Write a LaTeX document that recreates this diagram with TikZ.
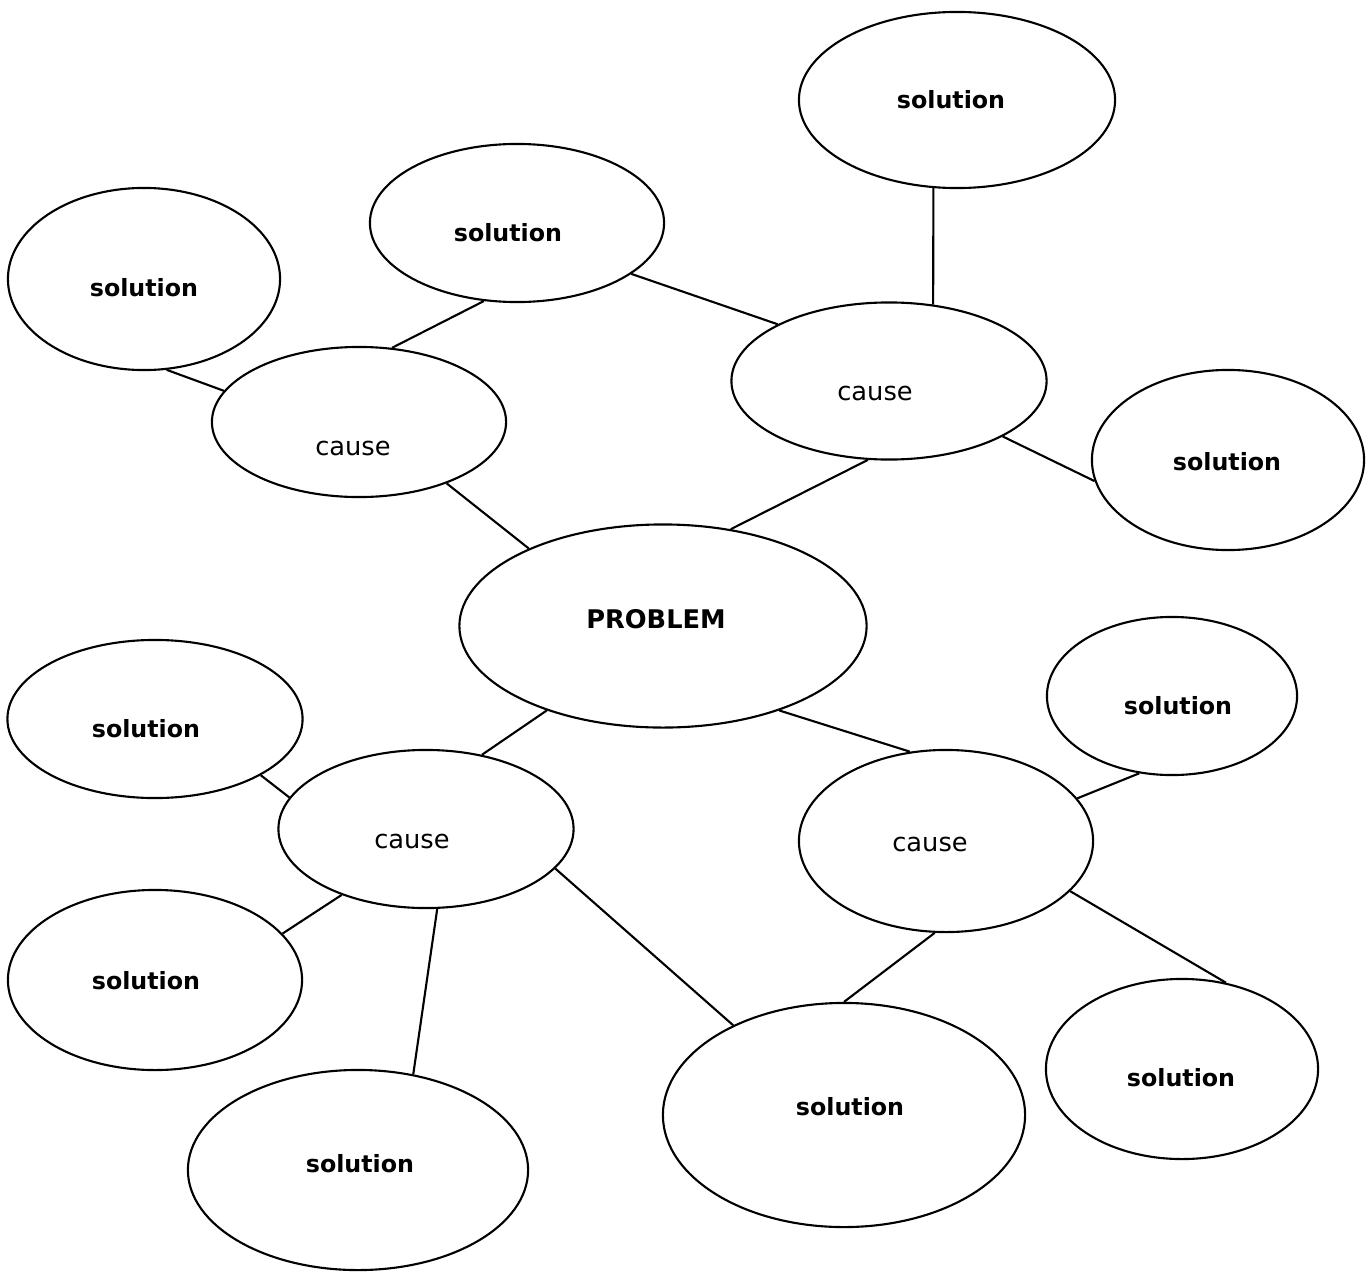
\documentclass[tikz,border=0pt]{standalone}
\usepackage{fontspec}
\setmainfont{DejaVu Sans}
\usetikzlibrary{shapes.geometric}
\begin{document}
\begin{tikzpicture}[x=0.01cm, y=-0.01cm, line width=0.6pt,
    burbuja/.style={draw, ellipse, inner sep=0pt},
    sol/.style={inner sep=0pt, font=\fontsize{6.75}{8}\selectfont\bfseries},
    causa/.style={inner sep=0pt, font=\fontsize{7.3}{9}\selectfont}]
    \useasboundingbox (0,0) rectangle (1370,1273);

    % Problema central
    \node[burbuja, minimum width=4.07cm, minimum height=2.03cm] (P) at (663,626) {};
    \node[inner sep=0pt, font=\fontsize{7.3}{9}\selectfont\bfseries] (Pt) at (656,619) {PROBLEM};

    % Causas
    \node[burbuja, minimum width=2.94cm, minimum height=1.50cm] (C1) at (359,422) {};
    \node[burbuja, minimum width=3.15cm, minimum height=1.57cm] (C2) at (889,381) {};
    \node[burbuja, minimum width=2.95cm, minimum height=1.58cm] (C3) at (426,829) {};
    \node[burbuja, minimum width=2.94cm, minimum height=1.82cm] (C4) at (946,841) {};
    \node[causa] (C1t) at (353,448) {cause};
    \node[causa] (C2t) at (875,393) {cause};
    \node[causa] (C3t) at (412,841) {cause};
    \node[causa] (C4t) at (930,844) {cause};

    % Soluciones
    \node[burbuja, minimum width=3.16cm, minimum height=1.76cm] (S1) at (957,100) {};
    \node[burbuja, minimum width=2.94cm, minimum height=1.58cm] (S2) at (517,223) {};
    \node[burbuja, minimum width=2.72cm, minimum height=1.82cm] (S3) at (144,279) {};
    \node[burbuja, minimum width=2.72cm, minimum height=1.80cm] (S4) at (1228,460) {};
    \node[burbuja, minimum width=2.95cm, minimum height=1.58cm] (S5) at (155,719) {};
    \node[burbuja, minimum width=2.50cm, minimum height=1.58cm] (S6) at (1172,696) {};
    \node[burbuja, minimum width=2.94cm, minimum height=1.80cm] (S7) at (155,980) {};
    \node[burbuja, minimum width=3.40cm, minimum height=2.00cm] (S8) at (358,1170) {};
    \node[burbuja, minimum width=3.62cm, minimum height=2.24cm] (S9) at (844,1115) {};
    \node[burbuja, minimum width=2.72cm, minimum height=1.80cm] (S10) at (1182,1069) {};
    \node[sol] (S1t) at (951,100) {solution};
    \node[sol] (S2t) at (508,233) {solution};
    \node[sol] (S3t) at (144,288) {solution};
    \node[sol] (S4t) at (1227,462) {solution};
    \node[sol] (S5t) at (146,729) {solution};
    \node[sol] (S6t) at (1178,706) {solution};
    \node[sol] (S7t) at (146,981) {solution};
    \node[sol] (S8t) at (360,1164) {solution};
    \node[sol] (S9t) at (850,1107) {solution};
    \node[sol] (S10t) at (1181,1078) {solution};

    % Conexiones de arriba
    \draw (S1.255) -- (C2.60);
    \draw (S2.-24) -- (C2.153);
    \draw (S2.247) -- (C1.66);
    \draw (S3.284) -- (C1.167);
    \draw (C1.-35) -- (P.150);
    \draw (C2.255) -- (P.55);
    \draw (C2.-26) -- (S4.189);

    % Conexiones de abajo
    \draw (P.216) -- (C3.53);
    \draw (P.-36) -- (C4.112);
    \draw (S5.-28) -- (C3.167);
    \draw (S6.247) -- (C4.18);
    \draw (C3.218) -- (S7.20);
    \draw (C3.-82) -- (S8.60);
    \draw (C3.-17) -- (S9.141);
    \draw (C4.263) -- (S9.90);
    \draw (C4.-22) -- (S10.63);
\end{tikzpicture}
\end{document}
